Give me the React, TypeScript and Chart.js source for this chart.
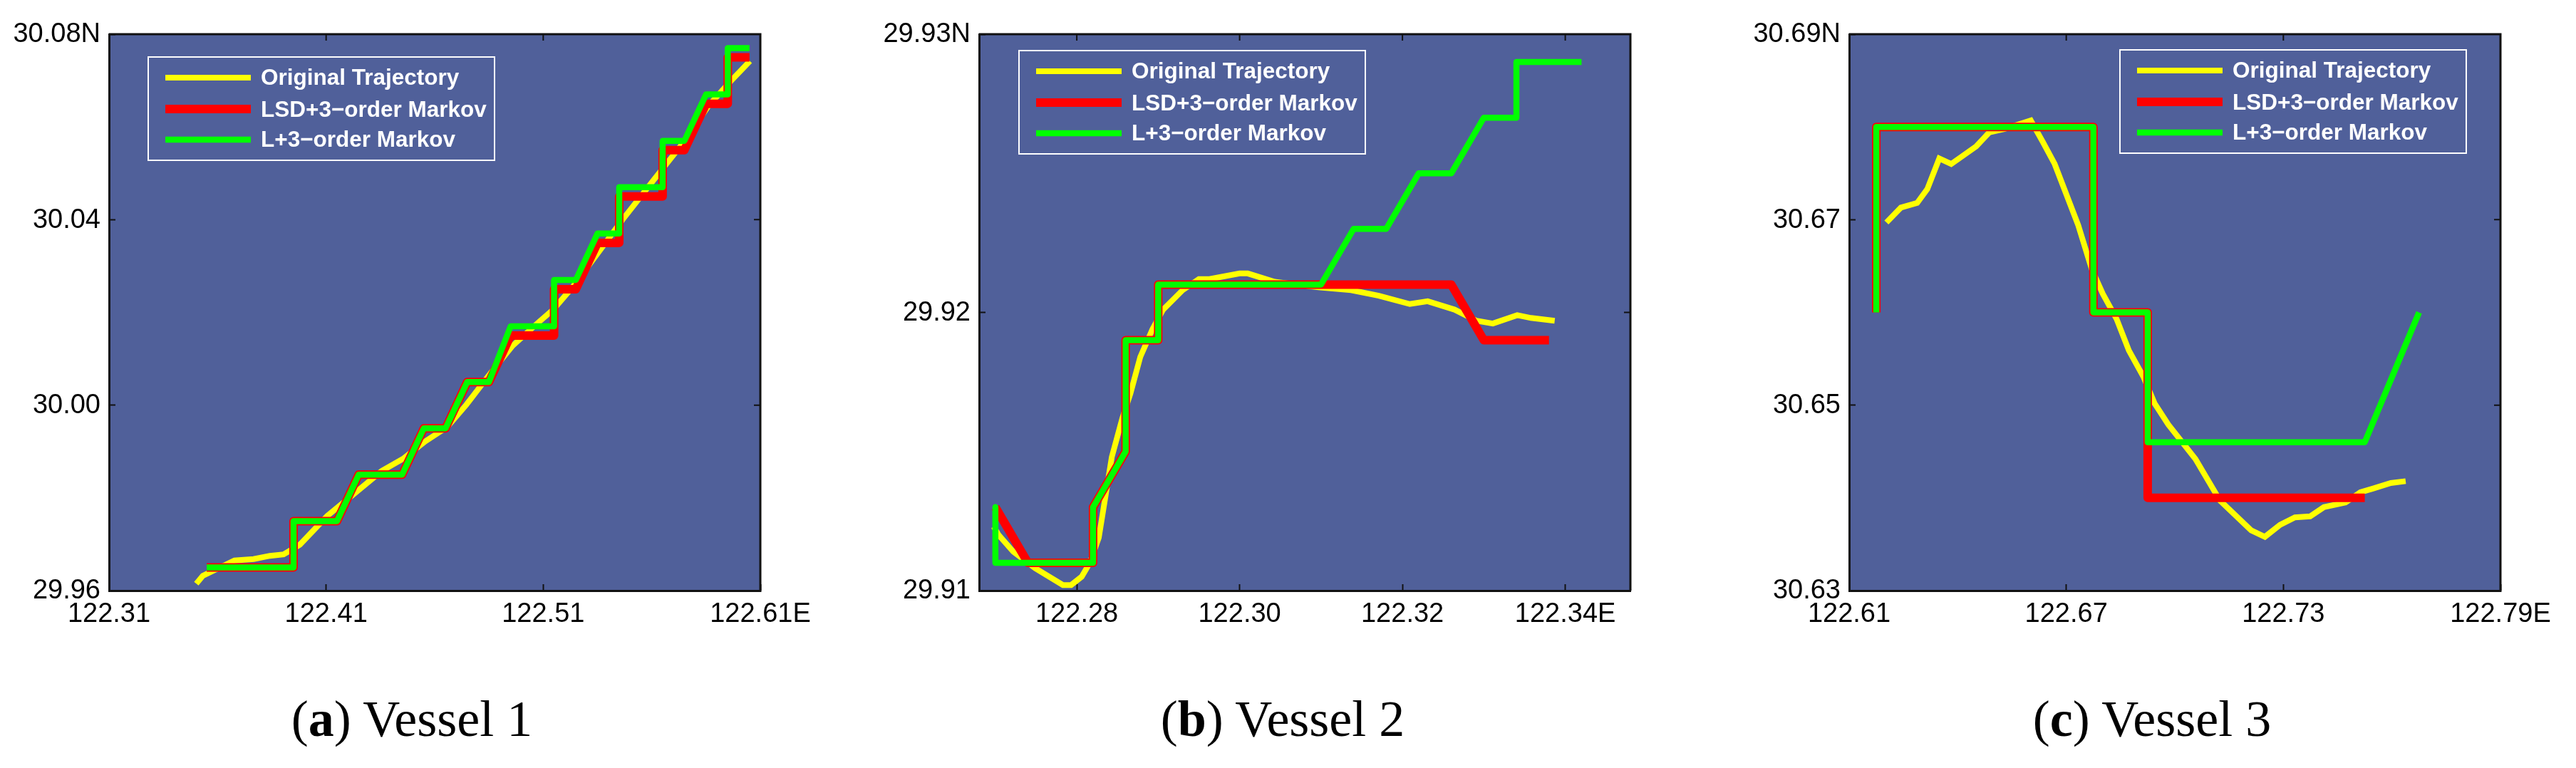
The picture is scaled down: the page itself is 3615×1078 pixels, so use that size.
import { useEffect, useRef } from "react"
import { Chart, registerables } from "chart.js"

Chart.register(...registerables)

const legendLabels = ["Original Trajectory", "LSD+3\u2212order Markov", "L+3\u2212order Markov"]

// Vessel 1
const lonTicks1 = [122.31, 122.41, 122.51, 122.61]
const latTicks1 = [29.96, 30.0, 30.04, 30.08]
const origLon1 = [122.3502, 122.3532, 122.3678, 122.3766, 122.3841, 122.3904, 122.3979, 122.4105, 122.4206, 122.4356, 122.4457, 122.4557, 122.4658, 122.4746, 122.4859, 122.4959, 122.5072, 122.5148, 122.5236, 122.5361, 122.5462, 122.5613, 122.5738, 122.5864, 122.5964, 122.6052]
const origLat1 = [29.9615, 29.9632, 29.9665, 29.9668, 29.9675, 29.9678, 29.9699, 29.9761, 29.98, 29.9858, 29.9885, 29.9922, 29.9953, 30.0001, 30.007, 30.0128, 30.0176, 30.0207, 30.0255, 30.0334, 30.0398, 30.0488, 30.0562, 30.0647, 30.0699, 30.0742]
const stepLon1 = [122.355, 122.395, 122.395, 122.415, 122.425, 122.445, 122.455, 122.465, 122.475, 122.485, 122.495, 122.515, 122.515, 122.525, 122.535, 122.545, 122.545, 122.565, 122.565, 122.575, 122.585, 122.595, 122.595, 122.605]
const lsdLat1 = [29.965, 29.965, 29.975, 29.975, 29.985, 29.985, 29.995, 29.995, 30.005, 30.005, 30.015, 30.015, 30.025, 30.025, 30.035, 30.035, 30.045, 30.045, 30.055, 30.055, 30.065, 30.065, 30.075, 30.075]
const markovLat1 = [29.965, 29.965, 29.975, 29.975, 29.985, 29.985, 29.995, 29.995, 30.005, 30.005, 30.017, 30.017, 30.027, 30.027, 30.037, 30.037, 30.047, 30.047, 30.057, 30.057, 30.067, 30.067, 30.077, 30.077]

// Vessel 2
const lonTicks2 = [122.28, 122.3, 122.32, 122.34]
const latTicks2 = [29.91, 29.92, 29.93]
const origLon2 = [122.2698, 122.2704, 122.2722, 122.2749, 122.2783, 122.2793, 122.2806, 122.2816, 122.2827, 122.2843, 122.2856, 122.2866, 122.2878, 122.2893, 122.2906, 122.293, 122.295, 122.2963, 122.3, 122.301, 122.3043, 122.3097, 122.3137, 122.3171, 122.3209, 122.3231, 122.3264, 122.3291, 122.3311, 122.3341, 122.3358, 122.3387]
const origLat2 = [29.9123, 29.912, 29.9114, 29.9108, 29.9102, 29.9102, 29.9105, 29.911, 29.9119, 29.9148, 29.9162, 29.9171, 29.9184, 29.9194, 29.9201, 29.9208, 29.9212, 29.9212, 29.9214, 29.9214, 29.9211, 29.9209, 29.9208, 29.9206, 29.9203, 29.9204, 29.9201, 29.9197, 29.9196, 29.9199, 29.9198, 29.9197]
const lsdLon2 = [122.27, 122.274, 122.282, 122.282, 122.286, 122.286, 122.29, 122.29, 122.326, 122.33, 122.338]
const lsdLat2 = [29.913, 29.911, 29.911, 29.913, 29.915, 29.919, 29.919, 29.921, 29.921, 29.919, 29.919]
const markovLon2 = [122.27, 122.27, 122.282, 122.282, 122.286, 122.286, 122.29, 122.29, 122.31, 122.314, 122.318, 122.322, 122.326, 122.33, 122.334, 122.334, 122.342]
const markovLat2 = [29.913, 29.911, 29.911, 29.913, 29.915, 29.919, 29.919, 29.921, 29.921, 29.923, 29.923, 29.925, 29.925, 29.927, 29.927, 29.929, 29.929]

// Vessel 3
const lonTicks3 = [122.61, 122.67, 122.73, 122.79]
const latTicks3 = [30.63, 30.65, 30.67, 30.69]
const origLon3 = [122.6203, 122.6243, 122.6288, 122.6316, 122.6349, 122.6382, 122.6451, 122.6487, 122.653, 122.6602, 122.6635, 122.6668, 122.6733, 122.6771, 122.6801, 122.6839, 122.6873, 122.6914, 122.6944, 122.6982, 122.7057, 122.7125, 122.7211, 122.7249, 122.7291, 122.7332, 122.7374, 122.7412, 122.7472, 122.7513, 122.7547, 122.7597, 122.7638]
const origLat3 = [30.6697, 30.6713, 30.6718, 30.6733, 30.6766, 30.676, 30.6779, 30.6794, 30.6798, 30.6807, 30.6784, 30.676, 30.6694, 30.6646, 30.662, 30.6593, 30.6559, 30.653, 30.6502, 30.6479, 30.6442, 30.6397, 30.6365, 30.6358, 30.6371, 30.6379, 30.638, 30.639, 30.6395, 30.6406, 30.641, 30.6416, 30.6418]
const lsdLon3 = [122.6175, 122.6175, 122.6775, 122.6775, 122.6925, 122.6925, 122.7525]
const lsdLat3 = [30.66, 30.68, 30.68, 30.66, 30.66, 30.64, 30.64]
const markovLon3 = [122.6175, 122.6175, 122.6775, 122.6775, 122.6925, 122.6925, 122.7525, 122.7675]
const markovLat3 = [30.66, 30.68, 30.68, 30.66, 30.66, 30.646, 30.646, 30.66]

const toPoints = (xs: number[], ys: number[]) => xs.map((x, i) => ({ x, y: ys[i] }))

const TICK_LEN = 9

// plot background, top/right frame and the legend box are not something the scales draw
const framePlugin = {
  id: "frame",
  beforeDraw(chart: any) {
    const { ctx, chartArea: a } = chart
    ctx.save()
    ctx.fillStyle = "#50609a"
    ctx.fillRect(a.left, a.top, a.right - a.left, a.bottom - a.top)
    ctx.restore()
  },
  afterDatasetsDraw(chart: any) {
    const { ctx, chartArea: a, scales } = chart
    ctx.save()
    ctx.strokeStyle = "#111"
    ctx.lineWidth = 3
    ctx.beginPath()
    ctx.moveTo(a.left, a.top)
    ctx.lineTo(a.right, a.top)
    ctx.lineTo(a.right, a.bottom)
    ctx.stroke()
    ctx.lineWidth = 2
    ctx.beginPath()
    scales.x.ticks.forEach((t: any) => {
      const px = scales.x.getPixelForValue(t.value)
      ctx.moveTo(px, a.top)
      ctx.lineTo(px, a.top + TICK_LEN)
    })
    scales.y.ticks.forEach((t: any) => {
      const py = scales.y.getPixelForValue(t.value)
      ctx.moveTo(a.right, py)
      ctx.lineTo(a.right - TICK_LEN, py)
    })
    ctx.stroke()
    ctx.restore()
  },
  afterDraw(chart: any, _args: any, opts: any) {
    const { ctx } = chart
    const { left, top } = opts
    ctx.save()
    ctx.strokeStyle = "#fff"
    ctx.lineWidth = 2
    ctx.strokeRect(left, top, 486, 145)
    const rows = [29, 73, 116]
    const textRows = [30, 75, 117]
    chart.data.datasets.forEach((ds: any, i: number) => {
      ctx.strokeStyle = ds.borderColor
      ctx.lineWidth = ds.borderWidth
      ctx.beginPath()
      ctx.moveTo(left + 24, top + rows[i])
      ctx.lineTo(left + 144, top + rows[i])
      ctx.stroke()
      ctx.fillStyle = "#fff"
      ctx.font = "bold 31.5px 'Liberation Sans'"
      ctx.textBaseline = "middle"
      ctx.textAlign = "left"
      ctx.fillText(ds.label, left + 158, top + textRows[i])
    })
    ctx.restore()
  },
}

type PanelProps = {
  canvasLeft: number
  canvasWidth: number
  plotLeft: number
  plotRight: number
  xMin: number
  xMax: number
  yMin: number
  yMax: number
  lonTicks: number[]
  latTicks: number[]
  orig: { x: number; y: number }[]
  lsd: { x: number; y: number }[]
  markov: { x: number; y: number }[]
  legendLeft: number
  legendTop: number
}

const CANVAS_H = 960
const PLOT_TOP = 48
const PLOT_BOTTOM = 829

function Panel(p: PanelProps) {
  const ref = useRef<HTMLCanvasElement>(null)

  useEffect(() => {
    if (!ref.current) return
    const chart = new Chart(ref.current, {
      type: "scatter",
      data: {
        datasets: [
          { label: legendLabels[0], data: p.orig, borderColor: "#ffff00", borderWidth: 8, borderJoinStyle: "miter", order: 3 },
          { label: legendLabels[1], data: p.lsd, borderColor: "#ff0000", borderWidth: 12, borderJoinStyle: "round", order: 2 },
          { label: legendLabels[2], data: p.markov, borderColor: "#00ff00", borderWidth: 8.5, borderJoinStyle: "round", order: 1 },
        ],
      },
      options: {
        responsive: false,
        animation: false,
        devicePixelRatio: 1,
        showLine: true,
        elements: { point: { radius: 0 }, line: { tension: 0 } },
        layout: {
          autoPadding: false,
          padding: { top: PLOT_TOP, left: 0, bottom: 0, right: p.canvasWidth - (p.plotRight - p.canvasLeft) },
        },
        scales: {
          x: {
            type: "linear",
            min: p.xMin,
            max: p.xMax,
            afterBuildTicks: (axis: any) => {
              axis.ticks = p.lonTicks.map((value) => ({ value }))
            },
            afterFit: (axis: any) => {
              axis.height = CANVAS_H - PLOT_BOTTOM
            },
            grid: { drawOnChartArea: false, tickLength: -TICK_LEN, tickColor: "#111", tickWidth: 2 },
            border: { color: "#111", width: 3 },
            ticks: {
              autoSkip: false,
              maxRotation: 0,
              minRotation: 0,
              padding: 20,
              color: "#000",
              font: { family: "'Liberation Sans'", size: 38 },
              callback: (v: any, i: number, ts: any[]) => Number(v).toFixed(2) + (i === ts.length - 1 ? "E" : ""),
            },
          },
          y: {
            type: "linear",
            min: p.yMin,
            max: p.yMax,
            afterBuildTicks: (axis: any) => {
              axis.ticks = p.latTicks.map((value) => ({ value }))
            },
            afterFit: (axis: any) => {
              axis.width = p.plotLeft - p.canvasLeft
            },
            grid: { drawOnChartArea: false, tickLength: -TICK_LEN, tickColor: "#111", tickWidth: 2 },
            border: { color: "#111", width: 3 },
            ticks: {
              autoSkip: false,
              padding: 21,
              labelOffset: 1,
              color: "#000",
              font: { family: "'Liberation Sans'", size: 38 },
              callback: (v: any, i: number, ts: any[]) => Number(v).toFixed(2) + (i === ts.length - 1 ? "N" : ""),
            },
          },
        },
        plugins: {
          legend: { display: false },
          tooltip: { enabled: false },
          frame: { left: p.legendLeft - p.canvasLeft, top: p.legendTop },
        },
      } as any,
      plugins: [framePlugin],
    })
    return () => chart.destroy()
  }, [])

  return (
    <canvas
      ref={ref}
      width={p.canvasWidth}
      height={CANVAS_H}
      style={{ position: "absolute", left: p.canvasLeft, top: 0, display: "block" }}
    />
  )
}

function Caption({ center, letter, text }: { center: number; letter: string; text: string }) {
  return (
    <div
      style={{
        position: "absolute",
        left: center - 300,
        width: 600,
        top: 965,
        textAlign: "center",
        fontFamily: "'Liberation Serif'",
        fontSize: 72,
        lineHeight: "88px",
        color: "#000",
      }}
    >
      (<b>{letter}</b>) {text}
    </div>
  )
}

export default function App() {
  return (
    <div style={{ position: "absolute", left: 0, top: 0, width: 3615, height: 1078, background: "#fff", overflow: "hidden" }}>
      <Panel
        canvasLeft={0}
        canvasWidth={1200}
        plotLeft={153}
        plotRight={1067}
        xMin={122.31}
        xMax={122.61}
        yMin={29.96}
        yMax={30.08}
        lonTicks={lonTicks1}
        latTicks={latTicks1}
        orig={toPoints(origLon1, origLat1)}
        lsd={toPoints(stepLon1, lsdLat1)}
        markov={toPoints(stepLon1, markovLat1)}
        legendLeft={208}
        legendTop={80}
      />
      <Panel
        canvasLeft={1200}
        canvasWidth={1215}
        plotLeft={1374}
        plotRight={2288}
        xMin={122.268}
        xMax={122.348}
        yMin={29.91}
        yMax={29.93}
        lonTicks={lonTicks2}
        latTicks={latTicks2}
        orig={toPoints(origLon2, origLat2)}
        lsd={toPoints(lsdLon2, lsdLat2)}
        markov={toPoints(markovLon2, markovLat2)}
        legendLeft={1430}
        legendTop={71}
      />
      <Panel
        canvasLeft={2415}
        canvasWidth={1200}
        plotLeft={2595}
        plotRight={3509}
        xMin={122.61}
        xMax={122.79}
        yMin={30.63}
        yMax={30.69}
        lonTicks={lonTicks3}
        latTicks={latTicks3}
        orig={toPoints(origLon3, origLat3)}
        lsd={toPoints(lsdLon3, lsdLat3)}
        markov={toPoints(markovLon3, markovLat3)}
        legendLeft={2975}
        legendTop={70}
      />
      <Caption center={578} letter="a" text="Vessel 1" />
      <Caption center={1800} letter="b" text="Vessel 2" />
      <Caption center={3020} letter="c" text="Vessel 3" />
    </div>
  )
}
